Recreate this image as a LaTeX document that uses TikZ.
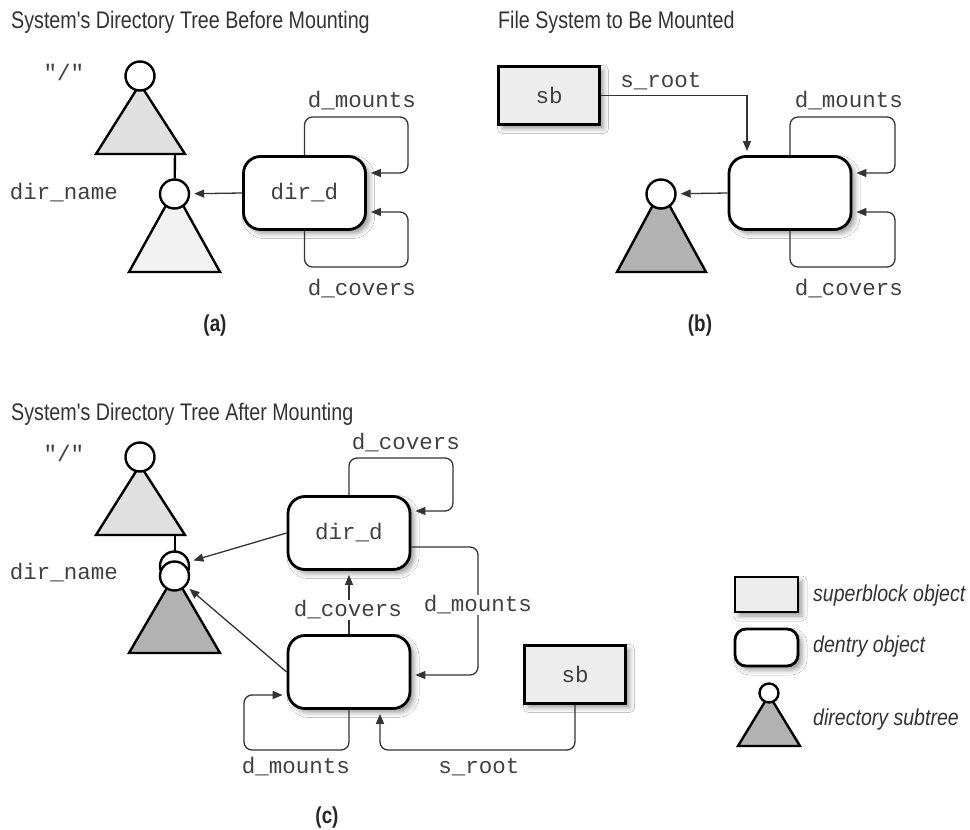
\documentclass[tikz,border=0pt]{standalone}
\usepackage{fontspec}
\setmainfont{Liberation Sans}
\setmonofont{Liberation Mono}
\newfontfamily\condfont{Liberation Sans}[FakeStretch=0.82]
\newfontfamily\legfont{Liberation Sans}[FakeStretch=0.85]
\usetikzlibrary{arrows.meta,shadows.blur,calc}
\begin{document}
\begin{tikzpicture}[x=1pt,y=-1pt,
  conn/.style={draw=black!80, line width=1.3pt, rounded corners=8pt},
  tip/.style={-{Triangle[length=10pt,width=8pt]}, shorten >=4pt},
  shad/.style={blur shadow={shadow xshift=4pt, shadow yshift=-4pt, shadow blur radius=5pt, shadow opacity=40}},
  dentry/.style={draw, line width=2.8pt, rounded corners=17pt, fill=white, minimum width=122pt, minimum height=73pt, inner sep=0pt, shad},
  sblock/.style={draw, line width=2.8pt, fill=black!7, minimum width=101pt, minimum height=58pt, inner sep=0pt, shad},
  dnode/.style={draw, circle, line width=2.4pt, fill=white, minimum size=29pt, inner sep=0pt},
  tri/.style={draw, line width=2.4pt, line join=miter},
  mono/.style={font=\fontsize{22.5}{25}\selectfont\ttfamily, text=black!75, inner sep=1pt},
  title/.style={font=\condfont\fontsize{24}{27}\selectfont, text=black!80, anchor=west, inner sep=0pt},
  sublabel/.style={font=\condfont\bfseries\fontsize{23}{26}\selectfont, text=black!85},
  legend/.style={font=\legfont\itshape\fontsize{23}{26}\selectfont, anchor=west, text=black!80, inner sep=0pt},
]
\useasboundingbox (0,0) rectangle (970,830);
\fill[white] (0,0) rectangle (970,830);

% ---------------- (a) ----------------
\node[title] (ta) at (11,22) {System's Directory Tree Before Mounting};
\draw[tri, fill=black!12] (96,154) -- (140,84) -- (185,154) -- cycle;
\draw[tri, fill=black!5] (129,272) -- (174.5,190) -- (220,272) -- cycle;
\node[dnode] (rootA) at (140,76) {};
\node[dnode] (cA) at (174.5,194) {};
\draw[line width=2.4pt] (175,154) -- (cA);
\node[mono] (qa) at (64,72) {"/"};
\node[mono] (dna) at (64,193) {dir\_name};
\node[dentry] (dirA) at (304.5,193) {};
\node[mono] at (dirA) {dir\_d};
\draw[conn,tip] (dirA.west) -- (cA);
\draw[conn,tip] (dirA.north) |- (408,117) |- ([yshift=20pt]dirA.east);
\draw[conn,tip] (dirA.south) |- (408,267) |- ([yshift=-19pt]dirA.east);
\node[mono] (lma) at (362,101) {d\_mounts};
\node[mono] (lca) at (362,289) {d\_covers};
\node[sublabel] (capa) at (215,326) {(a)};

% ---------------- (b) ----------------
\node[title] (tb) at (498,22) {File System to Be Mounted};
\node[sblock] (sbB) at (549,95.5) {};
\node[mono] at (sbB) {sb};
\node[dentry] (boxB) at (790,193) {};
\draw[tri, fill=black!30] (617,272) -- (661,190) -- (706,272) -- cycle;
\node[dnode] (cB) at (661,194) {};
\draw[conn,tip,sharp corners] (sbB.east) -| ([xshift=-43pt]boxB.north);
\draw[conn,tip] (boxB.west) -- (cB);
\draw[conn,tip] (boxB.north) |- (895,117) |- ([yshift=20pt]boxB.east);
\draw[conn,tip] (boxB.south) |- (895,267) |- ([yshift=-19pt]boxB.east);
\node[mono] (lsb) at (661,81) {s\_root};
\node[mono] (lmb) at (849,101) {d\_mounts};
\node[mono] (lcb) at (849,289) {d\_covers};
\node[sublabel] (capb) at (700,326) {(b)};

% ---------------- (c) ----------------
\node[title] (tc) at (11,414) {System's Directory Tree After Mounting};
\draw[tri, fill=black!12] (96,535) -- (140,465) -- (185,535) -- cycle;
\node[dnode] (rootC) at (140,457) {};
\draw[line width=2.4pt] (175,535) -- (175,552);
\node[dnode] (cC1) at (174.5,566) {};
\draw[tri, fill=black!30] (129,653) -- (174.5,575) -- (220,653) -- cycle;
\node[dnode] (cC2) at (174.5,576) {};
\node[mono] (qc) at (64,453) {"/"};
\node[mono] (dnc) at (64,573) {dir\_name};

\node[dentry] (dirC) at (349,533) {};
\node[mono] at (dirC) {dir\_d};
\node[dentry] (lowC) at (349,672) {};
\node[sblock] (sbC) at (575,674.5) {};
\node[mono] at (sbC) {sb};

\draw[conn,tip] (dirC.west) -- (cC1);
\draw[conn,tip] (lowC.west) -- (cC2);
\draw[conn,tip] (dirC.north) |- (453,458) |- ([yshift=22pt]dirC.east);
\draw[conn,tip] (lowC.north) -- (dirC.south);
\draw[conn,tip] ([yshift=-14pt]dirC.east) -| (478,675) -- ([yshift=-3pt]lowC.east);
\draw[conn,tip] (lowC.south) |- (244,750) |- ([yshift=-23pt]lowC.west);
\draw[conn,tip] (sbC.south) |- (380,750) -- ([xshift=31pt]lowC.south);

\node[mono] (lcc1) at (406,443) {d\_covers};
\node[mono, fill=white] (lcc2) at (348,610) {d\_covers};
\node[mono, fill=white] (lmc1) at (478,605) {d\_mounts};
\node[mono] (lmc2) at (296,767) {d\_mounts};
\node[mono] (lsc) at (479,767) {s\_root};
\node[sublabel] (capc) at (327,818) {(c)};

% ---------------- legend ----------------
\node[sblock, minimum width=63pt, minimum height=35pt] (lgS) at (766.5,594.5) {};
\node[dentry, minimum width=63pt, minimum height=37pt, rounded corners=11pt] (lgD) at (766.5,647.5) {};
\draw[tri, fill=black!30] (738,746) -- (769,695) -- (800,746) -- cycle;
\node[dnode, minimum size=19pt] (lgC) at (769,693) {};
\node[legend] (lgt1) at (813,596) {superblock object};
\node[legend] (lgt2) at (813,647) {dentry object};
\node[legend] (lgt3) at (813,720) {directory subtree};
\end{tikzpicture}
\end{document}
